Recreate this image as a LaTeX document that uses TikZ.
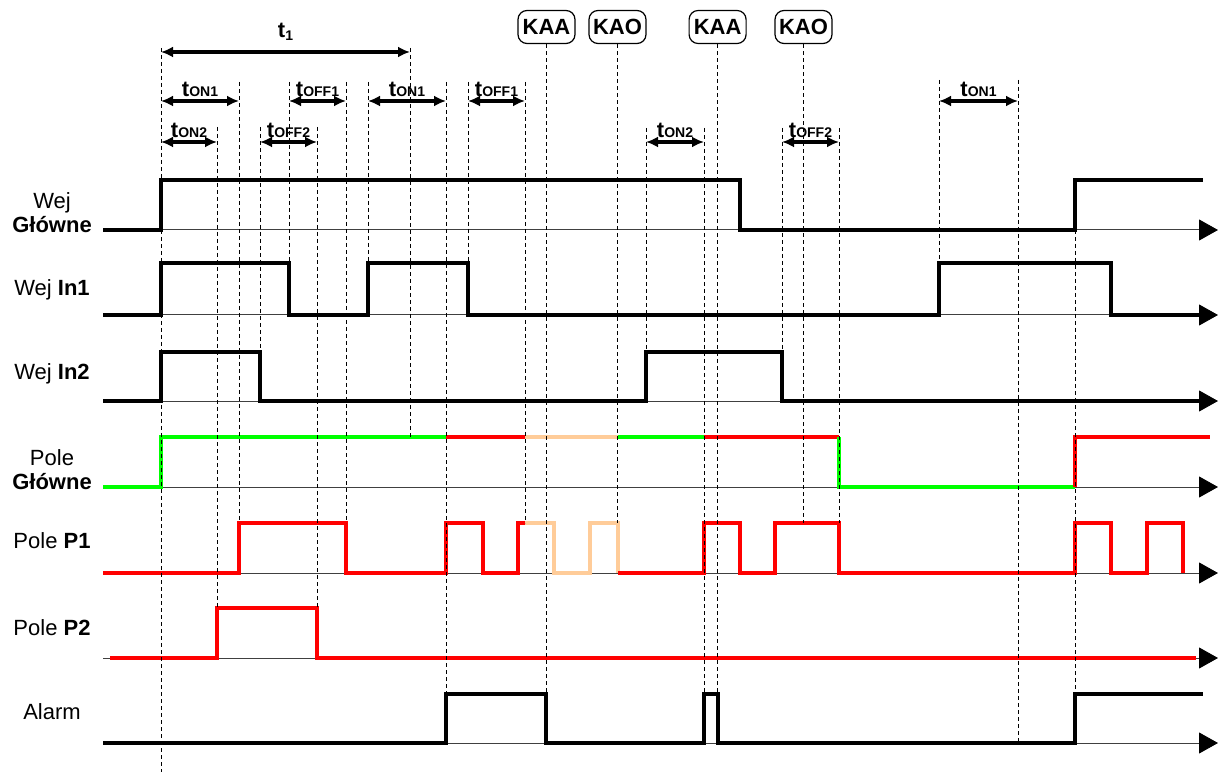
\documentclass[tikz,border=0pt]{standalone}
\usepackage{fontspec}
\setmainfont{Liberation Sans}
\usetikzlibrary{arrows.meta}
\definecolor{pgreen}{RGB}{0,255,0}
\definecolor{pred}{RGB}{255,0,0}
\definecolor{ppeach}{RGB}{255,204,153}
\newcommand{\tlab}[1]{\textbf{t\raisebox{-0.5pt}{\fontsize{14}{14}\selectfont #1}}}

\begin{document}
\begin{tikzpicture}[x=1pt,y=-1pt,
		sig/.style={line width=3.2pt,line join=miter},
		axis/.style={black!75,line width=1pt,-{Triangle[length=19pt,width=21pt,black]}},
		guide/.style={black,line width=0.8pt,dash pattern=on 4pt off 3pt},
		dim/.style={line width=3.5pt,{Latex[length=12pt,width=11pt]}-{Latex[length=12pt,width=11pt]}},
		sname/.style={font=\fontsize{22}{24}\selectfont,align=center,inner sep=0pt},
		kbox/.style={draw,rounded corners=9pt,line width=1.2pt,minimum width=57pt,minimum height=33pt,inner sep=0pt,font=\fontsize{22}{24}\selectfont\bfseries},
		tl/.style={anchor=base,inner sep=0pt,font=\fontsize{22}{24}\selectfont}]
	\useasboundingbox (0,0) rectangle (1218,775);

	\node[sname] (wejg) at (52,213) {Wej\\\textbf{Główne}};
	\node[sname,anchor=base] (wej1) at (52,296) {Wej \textbf{In1}};
	\node[sname,anchor=base] (wej2) at (52,380) {Wej \textbf{In2}};
	\node[sname] (poleg) at (52,470) {Pole\\\textbf{Główne}};
	\node[sname,anchor=base] (pole1) at (52,548) {Pole \textbf{P1}};
	\node[sname,anchor=base] (pole2) at (52,635) {Pole \textbf{P2}};
	\node[sname,anchor=base] (alarm) at (52,719) {Alarm};

	\foreach \ay in {230,315,401,487,573,658,743}
		\draw[axis] (103,\ay) -- (1218,\ay);

	\draw[sig] (103,230) -| (161,180) -| (740,230) -| (1075,180) -- (1203,180);
	\draw[sig] (103,315) -| (161,263) -| (289,315) -| (368,263) -| (468,315) -| (939,263) -| (1111,315) -- (1199,315);
	\draw[sig] (103,401) -| (161,352) -| (260,401) -| (646,352) -| (782,401) -- (1199,401);

	\draw[sig,pgreen] (103,487) -| (161,437) -- (446,437);
	\draw[sig,pred] (446,437) -- (525,437);
	\draw[sig,ppeach] (525,437) -- (618,437);
	\draw[sig,pgreen] (618,437) -- (704,437);
	\draw[sig,pred] (704,437) -- (839,437);
	\draw[sig,pgreen] (839,437) -- (839,487) -- (1075,487);
	\draw[sig,pred] (1075,487) -- (1075,437) -- (1210,437);

	\draw[sig,pred] (103,573) -| (239,523) -| (346,573) -| (446,523) -| (483,573) -| (518,523) -- (525,523);
	\draw[sig,ppeach] (525,523) -| (554,573) -| (590,523) -| (618,573);
	\draw[sig,pred] (618,573) -| (704,523) -| (740,573) -| (775,523) -| (839,573) -| (1075,523) -| (1111,573) -| (1147,523) -| (1183,573);

	\draw[sig,pred] (110,658) -| (217,608) -| (317,658) -- (1196,658);

	\draw[sig] (103,743) -| (446,694) -| (546,743) -| (704,694) -| (718,743) -| (1075,694) -- (1203,694);

	\foreach \gx/\gt/\gb in {161/48/772,217/127/608,239/82/523,260/127/352,289/82/263,317/127/608,346/82/523,368/82/263,410/48/437,446/82/694,468/82/263,525/82/523,646/128/352,704/128/694,782/128/352,839/128/523,939/80/263,1018/80/743,1075/230/694}
		\draw[guide] (\gx,\gt) -- (\gx,\gb);

	\node[kbox] (kaa1) at (546.5,27) {KAA};
	\node[kbox] (kao1) at (617.5,27) {KAO};
	\node[kbox] (kaa2) at (717.6,27) {KAA};
	\node[kbox] (kao2) at (803.5,27) {KAO};
	\coordinate (kaa1e) at (546.5,694);
	\coordinate (kao1e) at (617.5,523);
	\coordinate (kaa2e) at (717.6,694);
	\coordinate (kao2e) at (803.5,523);
	\draw[guide] (kaa1) -- (kaa1e);
	\draw[guide] (kao1) -- (kao1e);
	\draw[guide] (kaa2) -- (kaa2e);
	\draw[guide] (kao2) -- (kao2e);

	\draw[dim] (161,52) -- (410,52) node[midway,tl,yshift=14pt] (t1) {\textbf{t\raisebox{-3pt}{\fontsize{14}{14}\selectfont 1}}};
	\foreach \da/\db/\dy/\dt [count=\i] in {161/239/101/ON1,161/217/142/ON2,289/346/101/OFF1,260/317/142/OFF2,368/446/101/ON1,468/525/101/OFF1,646/704/142/ON2,782/839/142/OFF2,939/1018/101/ON1}
		\draw[dim] (\da,\dy) -- (\db,\dy) node[midway,tl,yshift=4.5pt] (dl\i) {\tlab{\dt}};
\end{tikzpicture}
\end{document}
